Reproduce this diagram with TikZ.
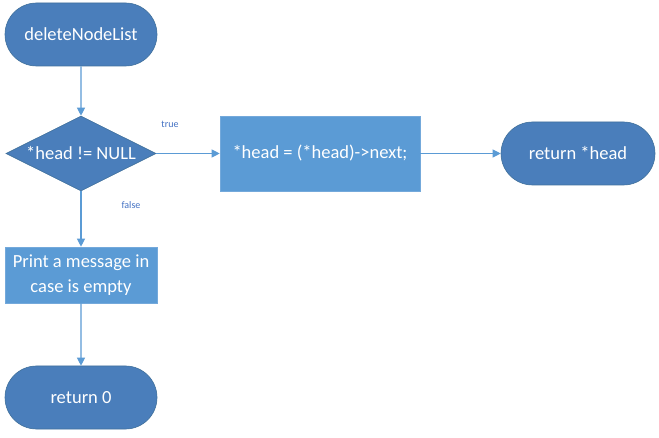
\documentclass[tikz,border=0pt]{standalone}
\usepackage{fontspec}
\setmainfont{Carlito}
\usetikzlibrary{shapes.geometric,shapes.misc,arrows.meta}
\definecolor{pillfill}{HTML}{4A7EBB}
\definecolor{pillline}{HTML}{41719C}
\definecolor{boxfill}{HTML}{5B9BD5}
\definecolor{boxline}{HTML}{74A9DB}
\definecolor{arrowc}{HTML}{5B9BD5}
\definecolor{lblc}{HTML}{4472C4}
\tikzset{
  pill/.style={rounded rectangle, fill=pillfill, draw=pillline, line width=0.6pt,
    minimum width=152pt, minimum height=63pt, inner sep=0pt, text=white,
    font=\fontsize{18.5}{21}\selectfont},
  procbox/.style={rectangle, fill=boxfill, draw=boxline, line width=0.6pt,
    text=white, inner sep=0pt, align=center, font=\fontsize{18.5}{24.5}\selectfont},
  decision/.style={diamond, aspect=2, fill=pillfill, draw=pillline, line width=0.6pt,
    minimum width=150pt, minimum height=75pt, inner sep=0pt, text=white,
    font=\fontsize{18.5}{21}\selectfont},
  conn/.style={draw=arrowc, line width=1.1pt, -{Triangle[length=8pt,width=8pt]}},
  lbl/.style={text=lblc, font=\fontsize{10}{12}\selectfont}
}
\begin{document}
\begin{tikzpicture}[x=1pt,y=-1pt]
\useasboundingbox (0,0) rectangle (659,438);
\fill[white] (0,0) rectangle (659,438);
\node[pill] (start) at (81,34.5) {deleteNodeList};
\node[decision, minimum width=150pt, minimum height=75pt] (dec) at (81,153.5) {*head != NULL};
\node[procbox, minimum width=200pt, minimum height=75pt] (assign) at (320,153.5) {*head = (*head)->next;};
\node[pill, minimum width=154pt] (rethead) at (578,153.5) {return *head};
\node[procbox, minimum width=152pt, minimum height=56pt] (print) at (81,275) {Print a message in\\case is empty};
\node[pill] (ret0) at (81,397.5) {return 0};
\draw[conn] (start) -- (dec);
\draw[conn] (dec.east) -- (assign.west);
\draw[conn] (assign) -- (rethead);
\draw[conn] (dec.south) -- (print.north);
\draw[conn] (print) -- (ret0);
\node[lbl] (ltrue) at (170,124) {true};
\node[lbl] (lfalse) at (131,205) {false};
\end{tikzpicture}
\end{document}
